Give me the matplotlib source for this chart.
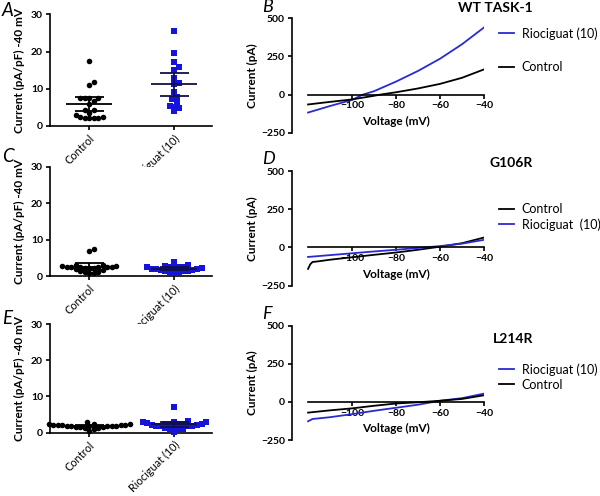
import numpy as np
import matplotlib
matplotlib.use('Agg')
import matplotlib.pyplot as plt

plt.rcParams['font.family'] = ['Lato', 'DejaVu Sans']

# ---- scatter data (current density at -40 mV, pA/pF) ----
groups = ['Control', 'Riociguat (10)']

a_control = [17.4, 11.8, 10.9, 7.5, 7.5, 7.5, 7.5, 6.7, 5.9, 4.2, 4.2, 3.6, 3.0,
             2.4, 2.2, 2.1, 2.1, 2.2, 2.5]
a_rio = [25.6, 19.7, 17.2, 15.8, 15.0, 12.8, 11.5, 11.2, 9.1, 7.9, 7.2, 6.4,
         5.2, 5.4, 4.7, 3.9]
a_ci = [1.9, 3.1]

c_control = [7.0, 7.3, 3.1, 2.9, 2.6, 2.5, 2.4, 2.3, 2.2, 2.2, 2.4, 2.5, 2.6,
             2.7, 2.8, 1.8, 1.6, 1.3, 1.0, 0.9, 0.9, 1.1]
c_rio = [3.8, 3.0, 2.7, 2.6, 2.5, 2.6, 2.4, 2.2, 2.0, 1.9, 1.8, 1.6, 1.5, 1.4,
         1.2, 1.0, 0.8, 1.3, 1.7, 2.1]
c_ci = [0.9, 0.4]

e_control = [3.0, 2.4, 2.3, 2.2, 2.1, 2.0, 1.9, 1.8, 1.7, 1.5, 1.3, 1.1, 0.5,
             1.2, 1.4, 1.6, 1.7, 1.8, 1.9, 2.0, 2.1, 2.3]
e_rio = [7.2, 3.2, 3.0, 3.0, 2.8, 2.7, 2.5, 2.5, 2.4, 2.4, 2.3, 2.0, 1.9, 1.8,
         1.8, 1.7, 1.2, 1.1, 1.0, 0.9, 0.2, 1.9, 2.0]
e_ci = [0.35, 0.6]

# ---- I-V traces (pA) ----
b_ctrl_v = [-120, -110, -100, -90, -87, -80, -70, -60, -50, -40]
b_ctrl_i = [-65, -48, -32, -8, 0, 15, 40, 70, 110, 165]
b_rio_v = [-120, -110, -100, -95, -90, -80, -70, -60, -50, -40]
b_rio_i = [-118, -75, -35, 0, 22, 85, 155, 235, 330, 440]

d_ctrl_v = [-120, -119, -118, -115, -110, -100, -90, -80, -70, -60, -50, -40]
d_ctrl_i = [-140, -110, -95, -90, -80, -64, -48, -33, -15, 5, 28, 65]
d_rio_v = [-120, -110, -100, -90, -80, -70, -60, -50, -40]
d_rio_i = [-62, -50, -38, -26, -15, -3, 9, 25, 50]

f_ctrl_v = [-120, -110, -100, -90, -80, -70, -60, -50, -40]
f_ctrl_i = [-70, -55, -42, -25, -10, -2, 8, 20, 44]
f_rio_v = [-120, -118, -110, -100, -90, -80, -70, -60, -50, -40]
f_rio_i = [-127, -112, -100, -80, -58, -38, -18, 8, 25, 55]

BLUE = '#1414dc'
LINE_BLUE = '#2a2ad2'
H = 496.0


def swarm(vals, px_per_unit, px_per_cat, diam=4.6):
    # greedy beeswarm (points may overlap a little, like Prism), x offsets in category units
    vals = np.asarray(vals, float)
    ypx = vals * px_per_unit
    offs = np.zeros(len(vals))
    placed = []
    for i in np.argsort(vals):
        cands = [0.0]
        for k in range(1, 40):
            cands += [k * diam / 2, -k * diam / 2]
        for c in cands:
            if all((c - px) ** 2 + (ypx[i] - py) ** 2 >= diam ** 2 for px, py in placed):
                break
        placed.append((c, ypx[i]))
        offs[i] = c / px_per_cat
    return offs


def scatter_panel(rect, ctrl, rio, ci, letter, letter_y):
    ax = fig.add_axes(rect)
    ppu = rect[3] * H / 30
    for k, (vals, col, mk) in enumerate([(ctrl, 'black', 'o'), (rio, BLUE, 's')]):
        off = swarm(vals, ppu, 87)
        ax.scatter(k + off, vals, s=16 if mk == 'o' else 14, marker=mk, color=col,
                   linewidths=0, clip_on=False, zorder=3)
        m = np.mean(vals)
        ecol = 'black' if k == 0 else '#10104a'
        ax.hlines(m, k - 0.27, k + 0.27, color=ecol, lw=1.3, zorder=4)
        ax.vlines(k, m - ci[k], m + ci[k], color=ecol, lw=1.3, zorder=4)
        ax.hlines([m - ci[k], m + ci[k]], k - 0.17, k + 0.17, color=ecol, lw=1.3, zorder=4)
    ax.set_xlim(-0.46, 1.44)
    ax.set_ylim(0, 30)
    ax.set_yticks([0, 10, 20, 30])
    ax.set_xticks([0, 1])
    ax.set_xticklabels(groups, rotation=45, ha='right', rotation_mode='anchor',
                       fontsize=7.8)
    for t in ax.get_yticklabels():
        t.set_fontweight('bold')
        t.set_fontsize(7.5)
    ax.spines[['top', 'right']].set_visible(False)
    ax.spines[['left', 'bottom']].set_linewidth(1.2)
    ax.tick_params(width=1.2, length=3, pad=2)
    ax.set_ylabel('Current (pA/pF) -40 mV', fontsize=8.5, fontweight='bold', labelpad=4)
    fig.text(2 / 600, 1 - letter_y / H, letter, fontsize=13.5, style='italic',
             va='center')
    return ax


def iv_panel(rect, traces, title, title_y, letter, letter_y, leg_y, spacing):
    ax = fig.add_axes(rect)
    handles = []
    for v, i, col, lab in traces:
        ln, = ax.plot(v, i, color=col, lw=1.3, label=lab)
        handles.append(ln)
    ax.set_xlim(-127.3, -40)
    ax.set_ylim(-250, 500)
    ax.set_yticks([-250, 0, 250, 500])
    ax.set_xticks([-100, -80, -60, -40])
    ax.spines[['top', 'right']].set_visible(False)
    ax.spines['bottom'].set_position(('data', 0))
    ax.spines['bottom'].set_bounds(-120, -40)
    ax.spines[['left', 'bottom']].set_linewidth(1.2)
    ax.tick_params(width=1.2, length=3, pad=2, labelsize=7.5)
    for t in ax.get_xticklabels() + ax.get_yticklabels():
        t.set_fontweight('bold')
    ax.set_ylabel('Current (pA)', fontsize=8.5, fontweight='bold', labelpad=2)
    ax.text(-80, 0.10, 'Voltage (mV)', transform=ax.get_xaxis_transform(),
            ha='center', va='center', fontsize=8.5, fontweight='bold')
    fig.text(533 / 600, 1 - title_y / H, title, ha='right', va='center', fontsize=10,
             fontweight='bold')
    fig.text(262 / 600, 1 - letter_y / H, letter, fontsize=13, style='italic',
             va='center')
    fig.legend(handles=handles, loc='upper left', bbox_to_anchor=(0.832, 1 - leg_y / H),
               frameon=False, fontsize=9, handlelength=1.2, handletextpad=0.6,
               labelspacing=spacing, borderpad=0, borderaxespad=0)
    return ax


fig = plt.figure(figsize=(6, 4.96), dpi=100)

scatter_panel([0.0833, 0.746, 0.27, 0.225], a_control, a_rio, a_ci, 'A', 10)
scatter_panel([0.0833, 0.4435, 0.27, 0.2204], c_control, c_rio, c_ci, 'C', 157)
scatter_panel([0.0833, 0.128, 0.27, 0.218], e_control, e_rio, e_ci, 'E', 318)

iv_panel([0.4867, 0.7325, 0.32, 0.2306],
         [(b_rio_v, b_rio_i, LINE_BLUE, 'Riociguat (10)'),
          (b_ctrl_v, b_ctrl_i, 'black', 'Control')],
         'WT TASK-1', 8, 'B', 7.5, 27, 1.75)
iv_panel([0.4867, 0.424, 0.32, 0.2312],
         [(d_ctrl_v, d_ctrl_i, 'black', 'Control'),
          (d_rio_v, d_rio_i, LINE_BLUE, 'Riociguat  (10)')],
         'G106R', 163, 'D', 159, 203, 0.25)
iv_panel([0.4867, 0.1129, 0.32, 0.23],
         [(f_rio_v, f_rio_i, LINE_BLUE, 'Riociguat (10)'),
          (f_ctrl_v, f_ctrl_i, 'black', 'Control')],
         'L214R', 339, 'F', 314, 363, 0.25)

fig.savefig('out.png', dpi=100)
